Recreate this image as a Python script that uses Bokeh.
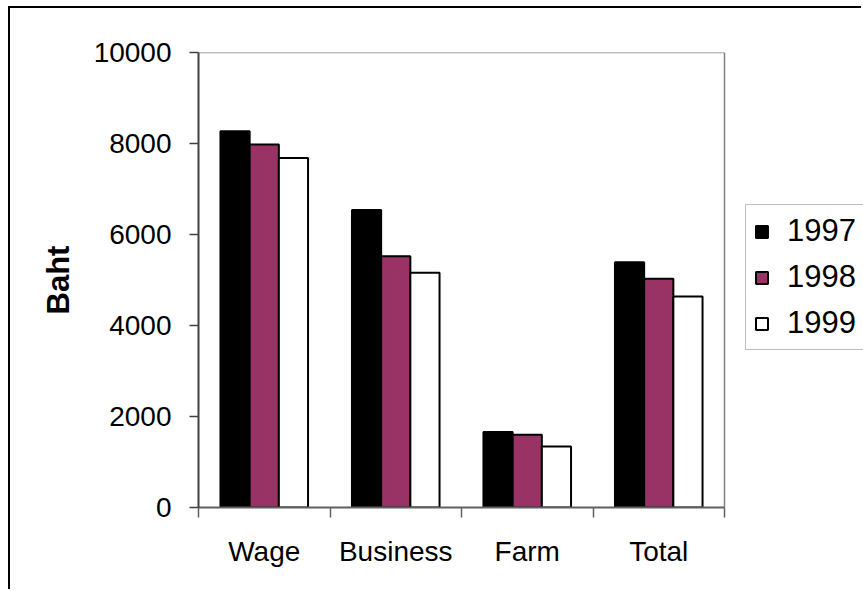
from bokeh.plotting import figure
from bokeh.models import (Range1d, FixedTicker, LinearAxis, Legend, LegendItem,
                          ColumnDataSource)
from bokeh.embed import file_html
from bokeh.resources import INLINE

# Average monthly income by source (Baht)
categories = ["Wage", "Business", "Farm", "Total"]
years = ["1997", "1998", "1999"]
income_1997 = [8270, 6540, 1660, 5390]
income_1998 = [7980, 5520, 1600, 5030]
income_1999 = [7680, 5160, 1340, 4640]
y_ticks = [0, 2000, 4000, 6000, 8000, 10000]

series = [income_1997, income_1998, income_1999]
fills = ["#000000", "#993366", "#ffffff"]

FONT = "Liberation Sans"
bar_w = 0.222                      # bar width in category units
offsets = [-bar_w, 0.0, bar_w]     # dodge of each year within a category

# canvas geometry (px)
W, H = 853, 583
LEFT, TOP, BOTTOM = 188, 44, 84
PLOT_W = 526                       # width of the bordered plot area
n_cat = len(categories)
# the frame runs to the right edge so the legend beside the plot area is not clipped
x_end = n_cat * (W - LEFT) / PLOT_W
y_max = y_ticks[-1]

p = figure(width=W, height=H, output_backend="svg", toolbar_location=None,
           x_range=Range1d(0, x_end), y_range=Range1d(0, y_max),
           x_axis_type=None, y_axis_type=None,
           min_border_left=LEFT, min_border_right=0,
           min_border_top=TOP, min_border_bottom=BOTTOM)
p.styles = {"margin-left": "8px", "margin-top": "6px",
            "border-left": "2px solid black", "border-top": "2px solid black"}
p.background_fill_color = "white"
p.border_fill_color = "white"
p.outline_line_color = None
p.grid.visible = False

# top and right border of the plot area
p.segment(x0=[0, n_cat], y0=[y_max, 0], x1=[n_cat, n_cat], y1=[y_max, y_max],
          line_color="#808080", line_width=1.5)

centers = [i + 0.5 for i in range(n_cat)]
renderers = []
for vals, off, col in zip(series, offsets, fills):
    src = ColumnDataSource(dict(x=[c + off for c in centers], top=vals))
    r = p.vbar(x="x", top="top", width=bar_w, bottom=0, source=src,
               fill_color=col, line_color="black", line_width=2)
    renderers.append(r)

# y axis
yax = LinearAxis(ticker=FixedTicker(ticks=y_ticks))
yax.axis_label = "Baht"
yax.axis_label_text_font = FONT
yax.axis_label_text_font_style = "bold"
yax.axis_label_text_font_size = "31px"
yax.axis_label_text_color = "black"
yax.axis_label_standoff = 15
yax.major_label_text_font = FONT
yax.major_label_text_font_size = "28px"
yax.major_label_text_color = "black"
yax.major_label_standoff = 18
yax.major_tick_out = 9
yax.major_tick_in = 0
yax.minor_tick_out = 0
yax.minor_tick_in = 0
yax.axis_line_color = "#404040"
yax.axis_line_width = 2
yax.major_tick_line_color = "#404040"
yax.major_tick_line_width = 1.5
p.add_layout(yax, "left")

# x axis: labels at category centres, tick marks at category boundaries
xax = LinearAxis(ticker=FixedTicker(ticks=centers,
                                    minor_ticks=list(range(n_cat + 1))),
                 bounds=(0, n_cat))
xax.major_label_overrides = {c: name for c, name in zip(centers, categories)}
xax.major_label_text_font = FONT
xax.major_label_text_font_size = "28px"
xax.major_label_text_color = "black"
xax.major_label_standoff = 18
xax.major_tick_out = 0
xax.major_tick_in = 0
xax.minor_tick_out = 10
xax.minor_tick_in = 0
xax.minor_tick_line_color = "#606060"
xax.minor_tick_line_width = 1.5
xax.axis_line_color = "#606060"
xax.axis_line_width = 2
p.add_layout(xax, "below")

legend = Legend(items=[LegendItem(label=y, renderers=[r]) for y, r in zip(years, renderers)],
                location=(547, 157), orientation="vertical")
legend.label_text_font = FONT
legend.label_text_font_size = "31px"
legend.label_text_color = "black"
legend.label_height = 30
legend.glyph_width = 15
legend.glyph_height = 15
legend.spacing = 10
legend.padding = 8
legend.label_standoff = 18
legend.border_line_color = "#808080"
legend.border_line_width = 1.5
legend.background_fill_alpha = 1.0
p.add_layout(legend, "center")

open("out.html", "w").write(file_html(p, INLINE))
